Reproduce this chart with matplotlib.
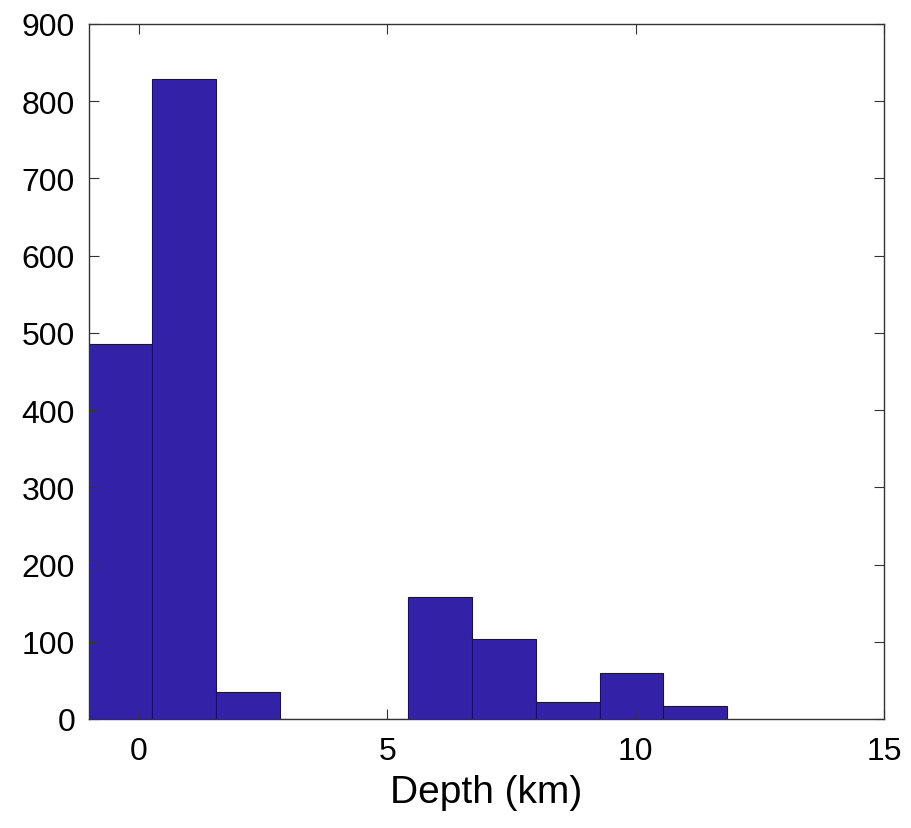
import matplotlib
matplotlib.use("Agg")
import matplotlib.pyplot as plt
import numpy as np

# Histogram data (bin edges in km, counts)
bin_edges = [-1.03, 0.26, 1.55, 2.84, 4.12, 5.41, 6.70, 7.99, 9.28, 10.56, 11.85]
counts = [486, 829, 35, 0, 0, 158, 104, 22, 60, 17]
xticks = [0, 5, 10, 15]
yticks = [0, 100, 200, 300, 400, 500, 600, 700, 800, 900]

plt.rcParams['font.family'] = ['Liberation Sans', 'DejaVu Sans']

fig = plt.figure(figsize=(9.12, 8.29), dpi=100)
ax = fig.add_axes([0.0976, 0.1315, 0.8717, 0.8385])

edges = np.array(bin_edges)
widths = np.diff(edges)
ax.bar(edges[:-1], counts, width=widths, align='edge',
       color='#3322A8', edgecolor='#1a1050', linewidth=0.8)

ax.set_xlim(-1, 15)
ax.set_ylim(0, 900)
ax.set_xticks(xticks)
ax.set_yticks(yticks)
ax.tick_params(direction='in', top=True, right=True, length=7, width=0.8,
               labelsize=23, color='#333333')
ax.tick_params(axis='x', pad=12)
ax.tick_params(axis='y', pad=10)
for s in ax.spines.values():
    s.set_linewidth(1.0)
    s.set_color('#333333')
ax.set_xlabel('Depth (km)', fontsize=28, labelpad=6)

fig.savefig('out.png', dpi=100)
